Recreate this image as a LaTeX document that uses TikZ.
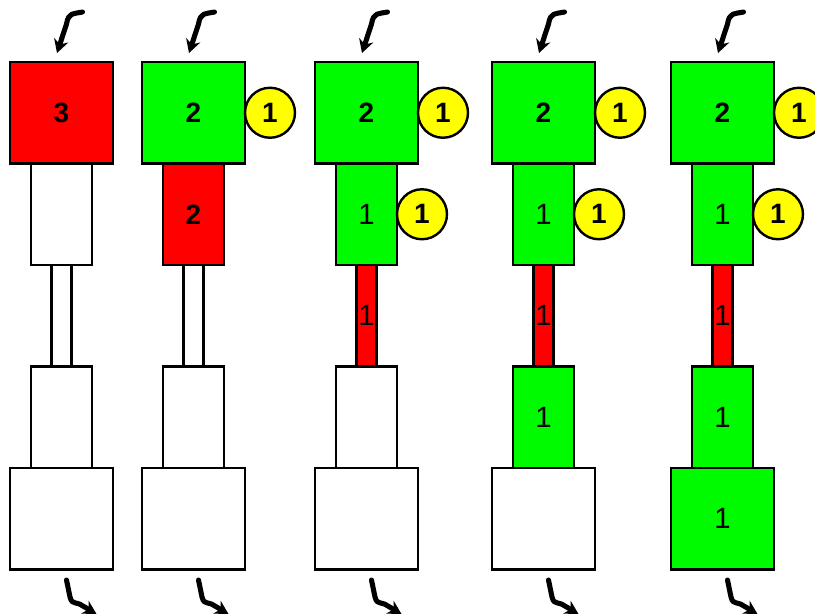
\documentclass[tikz,border=0pt]{standalone}
\usepackage{fontspec}
\setmainfont{Liberation Sans}
\usetikzlibrary{arrows.meta}
\newcommand{\digfont}{\fontsize{22pt}{22pt}\selectfont}
\newcommand{\digbold}{\fontsize{21pt}{21pt}\selectfont\bfseries}
\tikzset{
  blk/.style={draw=black, line width=2.2pt, inner sep=0pt, outer sep=0pt,
    font=\digfont},
  bigbox/.style={blk, minimum width=77.25pt, minimum height=76.1pt},
  midbox/.style={blk, minimum width=45.75pt, minimum height=76.1pt},
  pipebox/.style={blk, minimum width=15pt, minimum height=76.1pt},
  red/.style={fill=boxred}, grn/.style={fill=boxgreen}, wht/.style={fill=white},
  bold/.style={font=\digbold},
  token/.style={circle, draw=black, line width=1.8pt, fill=tokyellow, inner sep=0pt,
    minimum size=37.5pt, anchor=west, outer sep=0pt, font=\digbold},
  flow/.style={line width=3.8pt, line cap=round, line join=round,
    -{Stealth[length=10pt,width=11pt]}}
}
\definecolor{boxred}{RGB}{255,0,0}
\definecolor{boxgreen}{RGB}{0,250,0}
\definecolor{tokyellow}{RGB}{255,255,0}
\begin{document}
\begin{tikzpicture}[x=0.75pt,y=-0.75pt]
\clip (0,0) rectangle (815,615);
\fill[white] (0,0) rectangle (815,615);
% column 1
\node[bigbox,red,bold] (c1big) at (61.5,112.75) {3};
\node[midbox,wht] (c1mid) at (61.5,214.25) {};
\node[pipebox,wht] (c1pipe) at (61.5,315.75) {};
\node[midbox,wht] (c1low) at (61.5,417.25) {};
\node[bigbox,wht] (c1base) at (61.5,518.75) {};
% column 2
\node[bigbox,grn,bold] (c2big) at (193.5,112.75) {2};
\node[midbox,red,bold] (c2mid) at (193.5,214.25) {2};
\node[pipebox,wht] (c2pipe) at (193.5,315.75) {};
\node[midbox,wht] (c2low) at (193.5,417.25) {};
\node[bigbox,wht] (c2base) at (193.5,518.75) {};
\node[token] (c2t1) at (c2big.east) {1};
% column 3
\node[bigbox,grn,bold] (c3big) at (366.5,112.75) {2};
\node[midbox,grn] (c3mid) at (366.5,214.25) {1};
\node[pipebox,red] (c3pipe) at (366.5,315.75) {1};
\node[midbox,wht] (c3low) at (366.5,417.25) {};
\node[bigbox,wht] (c3base) at (366.5,518.75) {};
\node[token] (c3t1) at (c3big.east) {1};
\node[token] (c3t2) at (c3mid.east) {1};
% column 4
\node[bigbox,grn,bold] (c4big) at (543.5,112.75) {2};
\node[midbox,grn] (c4mid) at (543.5,214.25) {1};
\node[pipebox,red] (c4pipe) at (543.5,315.75) {1};
\node[midbox,grn] (c4low) at (543.5,417.25) {1};
\node[bigbox,wht] (c4base) at (543.5,518.75) {};
\node[token] (c4t1) at (c4big.east) {1};
\node[token] (c4t2) at (c4mid.east) {1};
% column 5
\node[bigbox,grn,bold] (c5big) at (722.5,112.75) {2};
\node[midbox,grn] (c5mid) at (722.5,214.25) {1};
\node[pipebox,red] (c5pipe) at (722.5,315.75) {1};
\node[midbox,grn] (c5low) at (722.5,417.25) {1};
\node[bigbox,grn] (c5base) at (722.5,518.75) {1};
\node[token] (c5t1) at (c5big.east) {1};
\node[token] (c5t2) at (c5mid.east) {1};
% flow arrows
\foreach \cx/\n in {61.5/1,193.5/2,366.5/3,543.5/4,722.5/5}{
  \coordinate (in\n s) at (\cx+21,12);
  \coordinate (in\n e) at (\cx-4.5,53);
  \draw[flow] (in\n s) .. controls (\cx+12,14) and (\cx+7,12) .. (\cx+5,24) -- (in\n e);
  \coordinate (out\n s) at (\cx+5,580);
  \coordinate (out\n e) at (\cx+35,614);
  \draw[flow] (out\n s) -- (\cx+8.5,597) .. controls (\cx+10,602) .. (\cx+18,604) -- (out\n e);
}
\end{tikzpicture}
\end{document}
